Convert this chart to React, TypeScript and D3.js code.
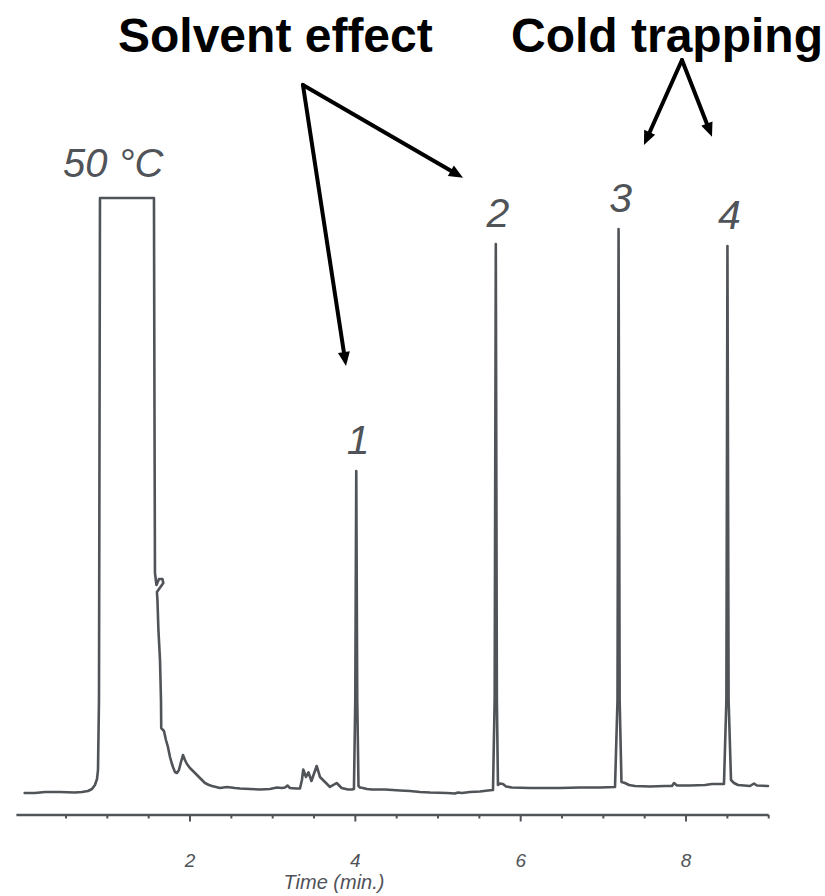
import React from "react";
import * as d3 from "d3";

// Chromatogram trace: [time (min), detector signal (a.u., 100 = saturated)]
const trace: [number, number][] = [
  [0.0, 0], [0.125, 0], [0.246, 0.17], [0.427, 0.17], [0.608, 0.08], [0.693, 0.17],
  [0.766, 0.34], [0.814, 0.67], [0.85, 1.34], [0.875, 2.35], [0.887, 3.87], [0.899, 15.63],
  [0.911, 100], [1.564, 100], [1.57, 66.05], [1.576, 36.97], [1.594, 34.96], [1.625, 35.97],
  [1.667, 35.97], [1.677, 35.29], [1.6, 33.78], [1.606, 32.44], [1.618, 27.39], [1.637, 22.35],
  [1.649, 15.63], [1.652, 10.92], [1.685, 10.42], [1.709, 8.91], [1.733, 7.73], [1.758, 6.05],
  [1.782, 4.87], [1.794, 4.37], [1.818, 3.53], [1.842, 3.36], [1.866, 3.87], [1.891, 5.21],
  [1.915, 6.39], [1.939, 5.55], [1.963, 4.87], [1.999, 4.2], [2.048, 3.53], [2.084, 3.03],
  [2.12, 2.52], [2.181, 1.68], [2.229, 1.34], [2.266, 1.18], [2.362, 0.84], [2.447, 1.01],
  [2.544, 0.84], [2.604, 0.76], [2.725, 0.67], [2.846, 0.59], [2.967, 0.67], [3.052, 0.92],
  [3.112, 0.84], [3.149, 0.92], [3.179, 1.26], [3.209, 0.84], [3.282, 0.76], [3.33, 0.76],
  [3.354, 2.18], [3.37, 3.95], [3.403, 2.69], [3.433, 3.45], [3.469, 2.02], [3.532, 4.54],
  [3.572, 2.69], [3.633, 1.85], [3.693, 1.01], [3.774, 1.68], [3.834, 0.84], [3.911, 0.59],
  [3.959, 0.59], [3.983, 0.67], [3.999, 15.63], [4.011, 54.12], [4.023, 15.63], [4.038, 1.18],
  [4.056, 0.92], [4.092, 0.84], [4.141, 0.67], [4.201, 0.59], [4.358, 0.59], [4.54, 0.42],
  [4.661, 0.34], [4.782, 0.17], [4.903, 0.08], [5.109, 0], [5.205, -0.08], [5.241, 0.08],
  [5.29, 0], [5.387, 0.17], [5.508, 0.25], [5.604, 0.42], [5.665, 0.5], [5.685, 15.63],
  [5.699, 92.27], [5.712, 15.63], [5.725, 1.34], [5.75, 1.6], [5.786, 1.51], [5.823, 1.09],
  [5.895, 0.92], [6.113, 0.84], [6.475, 0.84], [6.717, 0.92], [6.959, 0.92], [7.141, 1.01],
  [7.171, 15.63], [7.184, 94.79], [7.197, 15.63], [7.219, 1.85], [7.261, 1.68], [7.31, 1.34],
  [7.383, 1.18], [7.564, 1.09], [7.746, 1.18], [7.83, 1.18], [7.855, 1.68], [7.891, 1.26],
  [8.048, 1.26], [8.23, 1.34], [8.314, 1.51], [8.459, 1.51], [8.488, 15.63], [8.501, 91.93],
  [8.515, 15.63], [8.544, 2.18], [8.58, 1.68], [8.629, 1.34], [8.774, 1.18], [8.822, 1.6],
  [8.858, 1.26], [8.991, 1.18],
];

// Peak labels
const peakLabels = ["1", "2", "3", "4"];
const peakTimes = [4.011, 5.699, 7.184, 8.501];
const peakHeights = [54.12, 92.27, 94.79, 91.93];

// Axis ticks
const minorTicks = d3.range(0.5, 9.001, 0.5);
const majorTicks = [2, 4, 6, 8];
const majorTickLabels = ["2", "4", "6", "8"];
const xAxisTitle = "Time (min.)";

// Annotations (data coordinates: time, signal)
const solventTitle = "Solvent effect";
const coldTitle = "Cold trapping";
const solventApex: [number, number] = [3.366, 119.0];
const solventTargets: [number, number][] = [[3.887, 71.76], [5.302, 103.4]];
const coldApex: [number, number] = [7.951, 123.2];
const coldTargets: [number, number][] = [[7.491, 108.9], [8.314, 110.3]];
const ovenLabel = "50 °C";

const W = 825;
const H = 896;
const GRAY = "#505358";

export default function App() {
  const x = d3.scaleLinear().domain([-0.1, 9.0]).range([16.4, 768.7]);
  const y = d3.scaleLinear().domain([0, 100]).range([793, 198]);
  const line = d3
    .line<[number, number]>()
    .x((d) => x(d[0]))
    .y((d) => y(d[1]));

  const axisY = 815;
  const font = "'Liberation Sans', Arial, Helvetica, sans-serif";

  const arrow = (from: [number, number], to: [number, number], key: string) => {
    const x1 = x(from[0]);
    const y1 = y(from[1]);
    const x2 = x(to[0]);
    const y2 = y(to[1]);
    const ang = Math.atan2(y2 - y1, x2 - x1);
    const len = 14;
    const half = 6;
    const bx = x2 - len * Math.cos(ang);
    const by = y2 - len * Math.sin(ang);
    const px = -Math.sin(ang) * half;
    const py = Math.cos(ang) * half;
    return (
      <g key={key}>
        <line x1={x1} y1={y1} x2={bx} y2={by} stroke="#000" strokeWidth={4} strokeLinecap="round" />
        <polygon points={`${x2},${y2} ${bx + px},${by + py} ${bx - px},${by - py}`} fill="#000" />
      </g>
    );
  };

  return (
    <svg
      width={W}
      height={H}
      viewBox={`0 0 ${W} ${H}`}
      style={{ position: "absolute", left: 0, top: 0, background: "#fff" }}
    >
      <rect x={0} y={0} width={W} height={H} fill="#fff" />
      {/* titles */}
      <text x={118} y={52} fontFamily={font} fontWeight="bold" fontSize={48} fill="#000">
        {solventTitle}
      </text>
      <text x={511} y={52} fontFamily={font} fontWeight="bold" fontSize={48} fill="#000">
        {coldTitle}
      </text>
      {solventTargets.map((t, i) => arrow(solventApex, t, "s" + i))}
      {coldTargets.map((t, i) => arrow(coldApex, t, "c" + i))}

      {/* oven temperature label */}
      <text x={63} y={177} fontFamily={font} fontStyle="italic" fontSize={40} fill={GRAY}>
        {ovenLabel}
      </text>

      {/* trace */}
      <path
        d={line(trace) || ""}
        fill="none"
        stroke={GRAY}
        strokeWidth={2.6}
        strokeLinejoin="round"
        strokeLinecap="round"
      />

      {/* peak labels */}
      {peakLabels.map((lab, i) => (
        <text
          key={lab}
          x={x(peakTimes[i]) + 2}
          y={y(peakHeights[i]) - 17}
          textAnchor="middle"
          fontFamily={font}
          fontStyle="italic"
          fontSize={41}
          fill={GRAY}
        >
          {lab}
        </text>
      ))}

      {/* x axis */}
      <line x1={x(-0.1)} x2={x(9.0)} y1={axisY} y2={axisY} stroke={GRAY} strokeWidth={2.4} />
      {minorTicks.map((t) => (
        <line
          key={t}
          x1={x(t)}
          x2={x(t)}
          y1={axisY}
          y2={axisY + (majorTicks.includes(t) ? 6.5 : 3.5)}
          stroke={GRAY}
          strokeWidth={2}
        />
      ))}
      {majorTicks.map((t, i) => (
        <text
          key={t}
          x={x(t)}
          y={867}
          textAnchor="middle"
          fontFamily={font}
          fontStyle="italic"
          fontSize={19}
          fill={GRAY}
        >
          {majorTickLabels[i]}
        </text>
      ))}
      <text x={334} y={889} textAnchor="middle" fontFamily={font} fontStyle="italic" fontSize={20} fill={GRAY}>
        {xAxisTitle}
      </text>
    </svg>
  );
}
